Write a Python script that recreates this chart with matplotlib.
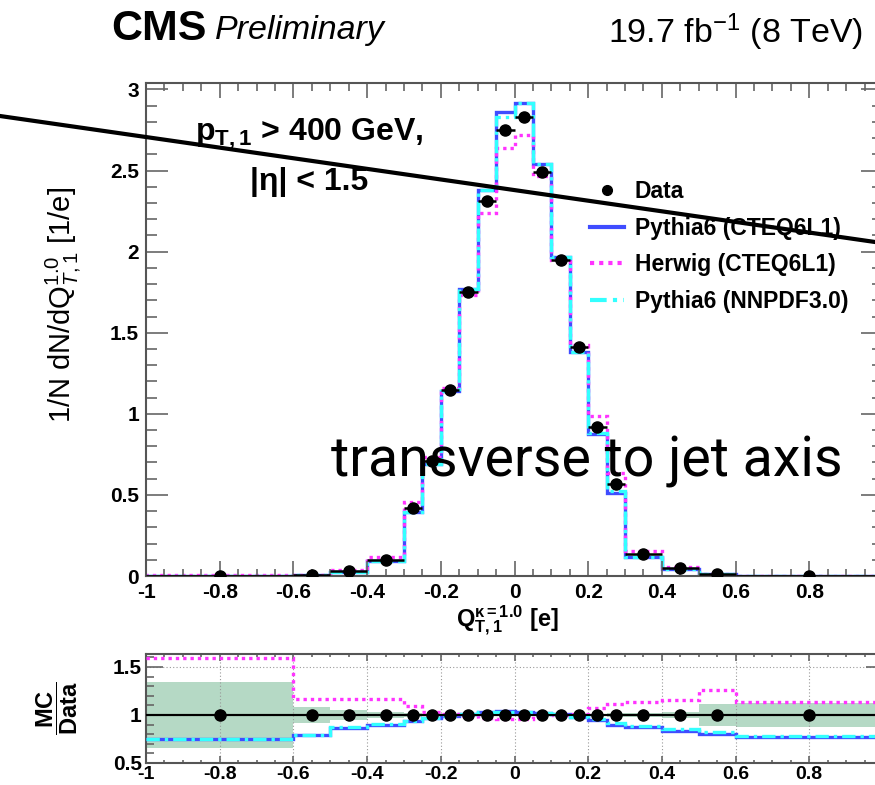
import numpy as np
import matplotlib
matplotlib.use("Agg")
import matplotlib.pyplot as plt
from matplotlib.lines import Line2D
from matplotlib.ticker import MultipleLocator

plt.rcParams["font.family"] = ["Liberation Sans", "DejaVu Sans"]
plt.rcParams["mathtext.fontset"] = "custom"
plt.rcParams["mathtext.rm"] = "Liberation Sans"
plt.rcParams["mathtext.it"] = "Liberation Sans:italic"
plt.rcParams["mathtext.bf"] = "Liberation Sans:bold"

# binning of the jet charge distribution
bin_edges = [-1.0, -0.6, -0.5, -0.4, -0.3, -0.25, -0.2, -0.15, -0.1, -0.05, 0.0,
             0.05, 0.1, 0.15, 0.2, 0.25, 0.3, 0.4, 0.5, 0.6, 1.0]
data_vals = [0.002, 0.006, 0.03, 0.10, 0.42, 0.71, 1.15, 1.75, 2.31, 2.75,
             2.83, 2.49, 1.95, 1.41, 0.92, 0.57, 0.135, 0.05, 0.012, 0.002]
# relative stat. uncertainty of the data
data_unc = [0.34, 0.08, 0.05, 0.03, 0.02, 0.015, 0.01, 0.01, 0.01, 0.01,
            0.01, 0.01, 0.01, 0.01, 0.015, 0.02, 0.02, 0.03, 0.11, 0.12]
# MC / data
ratio_pythia = [0.75, 0.79, 0.86, 0.90, 0.94, 0.97, 0.99, 1.01, 1.03, 1.04,
                1.03, 1.02, 1.01, 0.98, 0.95, 0.90, 0.875, 0.83, 0.80, 0.77]
ratio_herwig = [1.59, 1.17, 1.17, 1.17, 1.09, 1.03, 1.01, 0.99, 0.97, 0.96,
                0.96, 0.99, 1.00, 1.01, 1.07, 1.11, 1.13, 1.16, 1.26, 1.13]
ratio_nnpdf = [0.75, 0.79, 0.87, 0.91, 0.94, 0.97, 0.99, 1.01, 1.03, 1.03,
               1.03, 1.02, 1.01, 0.98, 0.96, 0.92, 0.89, 0.85, 0.82, 0.78]

labels = ["Pythia6 (CTEQ6L1)", "Herwig (CTEQ6L1)", "Pythia6 (NNPDF3.0)"]
colors = ["#3f4cff", "#ff33ff", "#33ffff"]
styles = ["-", (0, (1, 1.2)), (0, (4, 1.5, 1, 1.5))]

edges = np.array(bin_edges)
centers = 0.5 * (edges[1:] + edges[:-1])
half = 0.5 * np.diff(edges)
data = np.array(data_vals)
ratios = [np.array(ratio_pythia), np.array(ratio_herwig), np.array(ratio_nnpdf)]
mc = [data * r for r in ratios]

W, H = 875, 785
fig = plt.figure(figsize=(W / 100, H / 100), dpi=100)


def fx(px):
    return px / W


def fy(py):
    return 1 - py / H


def y_fmt(v, pos):
    v = round(v, 6)
    return f"{v:g}" if v != 0 else "0"


def x_fmt(v, pos):
    # no label at the right-hand edge
    if v > 0.99:
        return ""
    return y_fmt(v, pos)


ax = fig.add_axes([fx(146), fy(576), (883 - 146) / W, (576 - 83) / H])
rax = fig.add_axes([fx(146), fy(763), (883 - 146) / W, (763 - 654) / H])

for vals, c, ls in zip(mc, colors, styles):
    ax.stairs(vals, edges, color=c, lw=2.4, ls=ls)
ax.errorbar(centers, data, xerr=half, fmt="o", color="k", ms=8, lw=1.8, capsize=0, zorder=5)

ax.set_xlim(-1, 1)
ax.set_ylim(0, 3.04)

# ratio panel
rax.stairs(1 + np.array(data_unc), edges, baseline=1 - np.array(data_unc),
           fill=True, color="#b5d9c5", lw=0)
rax.axhline(1, color="k", lw=1.5, zorder=3)
for r, c, ls in zip(ratios, colors, styles):
    rax.stairs(r, edges, baseline=None, color=c, lw=2.4, ls=ls, zorder=4)
rax.errorbar(centers, np.ones_like(centers), xerr=half, fmt="o", color="k", ms=8,
             lw=1.5, capsize=0, zorder=5)
rax.set_xlim(-1, 1)
rax.set_ylim(0.5, 1.635)
rax.grid(True, which="major", color="#999999", ls=(0, (1, 2)), lw=0.8)

for a, xl, xs, yl, ys in [(ax, 10.8, 5.4, 16, 8), (rax, 5, 2.5, 12, 6)]:
    a.xaxis.set_major_locator(MultipleLocator(0.2))
    a.xaxis.set_minor_locator(MultipleLocator(0.05))
    a.yaxis.set_major_locator(MultipleLocator(0.5))
    a.yaxis.set_minor_locator(MultipleLocator(0.1))
    a.xaxis.set_major_formatter(x_fmt)
    a.yaxis.set_major_formatter(y_fmt)
    a.tick_params(which="both", direction="in", top=True, right=True, color="#666666",
                  labelsize=15, width=1.2)
    a.tick_params(axis="x", which="major", length=xl)
    a.tick_params(axis="x", which="minor", length=xs)
    a.tick_params(axis="y", which="major", length=yl)
    a.tick_params(axis="y", which="minor", length=ys)
    for s in a.spines.values():
        s.set_color("#555555")
        s.set_linewidth(1.5)
    for lab in a.get_xticklabels() + a.get_yticklabels():
        lab.set_fontweight("bold")

ax.tick_params(pad=5)
rax.tick_params(axis="x", pad=2, labelsize=14)
rax.tick_params(axis="y", pad=3)

ax.set_xlabel(r"$\mathbf{Q}^{\mathbf{\kappa=1.0}}_{\mathbf{T,1}}$ $\mathbf{[e]}$", fontsize=17)
ax.xaxis.set_label_coords(0.49, -0.055)
ax.set_ylabel(r"1/N dN/dQ$^{1.0}_{T,1}$ [1/e]", fontsize=21)
ax.yaxis.set_label_coords(-0.085, 0.55)
rax.set_ylabel(r"$\dfrac{\mathbf{MC}}{\mathbf{Data}}$", fontsize=17)
rax.yaxis.set_label_coords(-0.09, 0.5)

# legend
handles = [Line2D([], [], marker="o", color="k", ls="none", ms=7)]
handles += [Line2D([], [], color=c, ls=ls, lw=3) for c, ls in zip(colors, styles)]
ax.legend(handles, ["Data"] + labels, loc="upper left", bbox_to_anchor=(fx(590), fy(180)),
          bbox_transform=fig.transFigure, frameon=False, borderpad=0, borderaxespad=0,
          handlelength=1.5, handletextpad=0.45, labelspacing=0.6,
          prop={"weight": "bold", "size": 16.5})

fig.text(fx(195), fy(140), r"$\mathbf{p_{T,1}}$ > 400 GeV,", fontsize=23, fontweight="bold")
fig.text(fx(250), fy(190), "|η| < 1.5", fontsize=23, fontweight="bold")

fig.text(fx(111), fy(40), "CMS", fontsize=31, fontweight="bold")
fig.text(fx(215), fy(39), "Preliminary", fontsize=24.5, style="italic")
fig.text(fx(863), fy(43), r"19.7 fb$^{-1}$ (8 TeV)", fontsize=24.5, ha="right")

fig.text(fx(331), fy(477), "transverse to jet axis", fontsize=40,
         family=["Roboto", "DejaVu Sans"])
fig.add_artist(Line2D([0, 1], [fy(116), fy(242)], transform=fig.transFigure,
                      color="k", lw=3, zorder=10))

fig.savefig("out.png", dpi=100)
